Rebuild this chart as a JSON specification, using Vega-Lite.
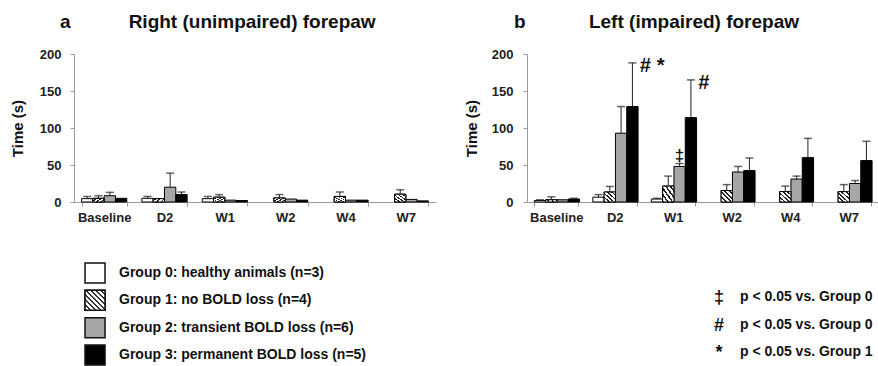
{
  "$schema": "https://vega.github.io/schema/vega-lite/v6.json",
  "padding": {"left": 10, "top": 13, "right": 0, "bottom": 0},
  "background": "white",
  "config": {
    "font": "Liberation Sans",
    "view": {"stroke": null},
    "axis": {"labelFont": "Liberation Sans", "labelFontWeight": "bold", "labelFontSize": 13, "labelColor": "#222", "titleFont": "Liberation Sans", "titleFontWeight": "bold", "titleFontSize": 15, "titleColor": "#111", "domainColor": "#999", "tickColor": "#999", "tickSize": 4, "grid": false, "labelOverlap": false},
    "title": {"font": "Liberation Sans", "fontSize": 19, "fontWeight": "bold", "color": "#111", "anchor": "start", "frame": "group"}
  },
  "datasets": {
    "bars": [
      {"side": "R", "phase": "Baseline", "group": 0, "mean": 4.5, "err": 7.5},
      {"side": "R", "phase": "Baseline", "group": 1, "mean": 5, "err": 8.5},
      {"side": "R", "phase": "Baseline", "group": 2, "mean": 8.5, "err": 13},
      {"side": "R", "phase": "Baseline", "group": 3, "mean": 5, "err": null},
      {"side": "R", "phase": "D2", "group": 0, "mean": 5, "err": 7.5},
      {"side": "R", "phase": "D2", "group": 1, "mean": 4.5, "err": null},
      {"side": "R", "phase": "D2", "group": 2, "mean": 20, "err": 39},
      {"side": "R", "phase": "D2", "group": 3, "mean": 10, "err": 13.5},
      {"side": "R", "phase": "W1", "group": 0, "mean": 4.5, "err": 7.5},
      {"side": "R", "phase": "W1", "group": 1, "mean": 6.5, "err": 10},
      {"side": "R", "phase": "W1", "group": 2, "mean": 2.5, "err": null},
      {"side": "R", "phase": "W1", "group": 3, "mean": 2, "err": null},
      {"side": "R", "phase": "W2", "group": 1, "mean": 5.5, "err": 10},
      {"side": "R", "phase": "W2", "group": 2, "mean": 4, "err": null},
      {"side": "R", "phase": "W2", "group": 3, "mean": 2.5, "err": null},
      {"side": "R", "phase": "W4", "group": 1, "mean": 7.5, "err": 13.5},
      {"side": "R", "phase": "W4", "group": 2, "mean": 2.5, "err": null},
      {"side": "R", "phase": "W4", "group": 3, "mean": 2.5, "err": null},
      {"side": "R", "phase": "W7", "group": 1, "mean": 10.5, "err": 16.5},
      {"side": "R", "phase": "W7", "group": 2, "mean": 3.5, "err": null},
      {"side": "R", "phase": "W7", "group": 3, "mean": 1.5, "err": null},
      {"side": "L", "phase": "Baseline", "group": 0, "mean": 2, "err": 3},
      {"side": "L", "phase": "Baseline", "group": 1, "mean": 3, "err": 7},
      {"side": "L", "phase": "Baseline", "group": 2, "mean": 3, "err": null},
      {"side": "L", "phase": "Baseline", "group": 3, "mean": 4, "err": 5},
      {"side": "L", "phase": "D2", "group": 0, "mean": 6.5, "err": 10},
      {"side": "L", "phase": "D2", "group": 1, "mean": 13.5, "err": 21},
      {"side": "L", "phase": "D2", "group": 2, "mean": 93, "err": 129},
      {"side": "L", "phase": "D2", "group": 3, "mean": 129, "err": 188, "sig": "# *"},
      {"side": "L", "phase": "W1", "group": 0, "mean": 4, "err": 5},
      {"side": "L", "phase": "W1", "group": 1, "mean": 21.5, "err": 35},
      {"side": "L", "phase": "W1", "group": 2, "mean": 48, "err": 52, "sig": "‡"},
      {"side": "L", "phase": "W1", "group": 3, "mean": 114, "err": 165, "sig": "#"},
      {"side": "L", "phase": "W2", "group": 1, "mean": 15.5, "err": 23.5},
      {"side": "L", "phase": "W2", "group": 2, "mean": 40.5, "err": 48},
      {"side": "L", "phase": "W2", "group": 3, "mean": 42.5, "err": 59.5},
      {"side": "L", "phase": "W4", "group": 1, "mean": 14, "err": 21.5},
      {"side": "L", "phase": "W4", "group": 2, "mean": 31, "err": 35},
      {"side": "L", "phase": "W4", "group": 3, "mean": 60, "err": 86},
      {"side": "L", "phase": "W7", "group": 1, "mean": 14, "err": 23.5},
      {"side": "L", "phase": "W7", "group": 2, "mean": 25, "err": 29},
      {"side": "L", "phase": "W7", "group": 3, "mean": 56, "err": 82}
    ],
    "legend": [
      {"col": "g", "row": 0, "group": 0, "label": "Group 0: healthy animals (n=3)"},
      {"col": "g", "row": 1, "group": 1, "label": "Group 1: no BOLD loss (n=4)"},
      {"col": "g", "row": 2, "group": 2, "label": "Group 2: transient BOLD loss (n=6)"},
      {"col": "g", "row": 3, "group": 3, "label": "Group 3: permanent BOLD loss (n=5)"},
      {"col": "s", "row": 1, "sym": "‡", "label": "p < 0.05 vs. Group 0"},
      {"col": "s", "row": 2, "sym": "#", "label": "p < 0.05 vs. Group 0"},
      {"col": "s", "row": 3, "sym": "*", "label": "p < 0.05 vs. Group 1"}
    ]
  },
  "vconcat": [
    {
      "hconcat": [
        {
          "width": 362, "height": 148,
          "title": {"text": "a\u00a0\u00a0\u00a0\u00a0\u00a0\u00a0\u00a0\u00a0\u00a0\u00a0\u00a0Right (unimpaired) forepaw", "dx": -14, "offset": 16},
          "data": {"name": "bars"},
          "transform": [{"filter": "datum.side === 'R'"}],
          "encoding": {
            "x": {"field": "phase", "type": "nominal", "sort": ["Baseline", "D2", "W1", "W2", "W4", "W7"], "scale": {"paddingInner": 0.25, "paddingOuter": 0.125}, "axis": {"title": null, "labelAngle": 0, "tickBand": "extent", "labelPadding": 5}},
            "xOffset": {"field": "group", "type": "nominal", "scale": {"domain": [0, 1, 2, 3], "paddingInner": 0, "paddingOuter": 0}}
          },
          "layer": [
            {
              "mark": {"type": "bar", "stroke": "#000", "strokeWidth": 1},
              "encoding": {
                "y": {"field": "mean", "type": "quantitative", "scale": {"domain": [0, 200]}, "axis": {"values": [0, 50, 100, 150, 200], "title": "Time (s)", "labelPadding": 9, "titlePadding": 14}},
                "fill": {"field": "group", "type": "nominal", "scale": {"domain": [0, 1, 2, 3], "range": ["#ffffff", "#ffffff", "#a6a6a6", "#000000"]}, "legend": null}
              }
            },
            {
              "transform": [{"filter": "datum.group === 1"}],
              "mark": {"type": "bar", "stroke": "#000", "strokeWidth": 1, "fill": {"gradient": "linear", "x1": 0, "y1": 1, "x2": 1, "y2": 0, "stops": [
                {"offset": 0, "color": "#222"}, {"offset": 0.08, "color": "#222"}, {"offset": 0.08, "color": "#fff"}, {"offset": 0.2, "color": "#fff"},
                {"offset": 0.2, "color": "#222"}, {"offset": 0.28, "color": "#222"}, {"offset": 0.28, "color": "#fff"}, {"offset": 0.4, "color": "#fff"},
                {"offset": 0.4, "color": "#222"}, {"offset": 0.48, "color": "#222"}, {"offset": 0.48, "color": "#fff"}, {"offset": 0.6, "color": "#fff"},
                {"offset": 0.6, "color": "#222"}, {"offset": 0.68, "color": "#222"}, {"offset": 0.68, "color": "#fff"}, {"offset": 0.8, "color": "#fff"},
                {"offset": 0.8, "color": "#222"}, {"offset": 0.88, "color": "#222"}, {"offset": 0.88, "color": "#fff"}, {"offset": 1, "color": "#fff"}]}},
              "encoding": {"y": {"field": "mean", "type": "quantitative", "axis": {"values": [0, 50, 100, 150, 200], "title": "Time (s)", "labelPadding": 9, "titlePadding": 14}}}
            },
            {
              "transform": [{"filter": "datum.err != null"}],
              "mark": {"type": "rule", "color": "#222", "strokeWidth": 1},
              "encoding": {"y": {"field": "mean", "type": "quantitative", "axis": {"values": [0, 50, 100, 150, 200], "title": "Time (s)", "labelPadding": 9, "titlePadding": 14}}, "y2": {"field": "err"}}
            },
            {
              "transform": [{"filter": "datum.err != null"}],
              "mark": {"type": "tick", "color": "#222", "size": 8, "thickness": 1.5},
              "encoding": {"y": {"field": "err", "type": "quantitative", "axis": {"values": [0, 50, 100, 150, 200], "title": "Time (s)", "labelPadding": 9, "titlePadding": 14}}}
            }
          ]
        },
        {
          "width": 351, "height": 148,
          "title": {"text": "b\u00a0\u00a0\u00a0\u00a0\u00a0\u00a0\u00a0\u00a0\u00a0\u00a0\u00a0\u00a0Left (impaired) forepaw", "dx": -13, "offset": 16},
          "data": {"name": "bars"},
          "transform": [{"filter": "datum.side === 'L'"}],
          "encoding": {
            "x": {"field": "phase", "type": "nominal", "sort": ["Baseline", "D2", "W1", "W2", "W4", "W7"], "scale": {"paddingInner": 0.25, "paddingOuter": 0.125}, "axis": {"title": null, "labelAngle": 0, "tickBand": "extent", "labelPadding": 5}},
            "xOffset": {"field": "group", "type": "nominal", "scale": {"domain": [0, 1, 2, 3], "paddingInner": 0, "paddingOuter": 0}}
          },
          "layer": [
            {
              "mark": {"type": "bar", "stroke": "#000", "strokeWidth": 1},
              "encoding": {
                "y": {"field": "mean", "type": "quantitative", "scale": {"domain": [0, 200]}, "axis": {"values": [0, 50, 100, 150, 200], "title": "Time (s)", "labelPadding": 10, "titlePadding": 12}},
                "fill": {"field": "group", "type": "nominal", "scale": {"domain": [0, 1, 2, 3], "range": ["#ffffff", "#ffffff", "#a6a6a6", "#000000"]}, "legend": null}
              }
            },
            {
              "transform": [{"filter": "datum.group === 1"}],
              "mark": {"type": "bar", "stroke": "#000", "strokeWidth": 1, "fill": {"gradient": "linear", "x1": 0, "y1": 1, "x2": 1, "y2": 0, "stops": [
                {"offset": 0, "color": "#222"}, {"offset": 0.08, "color": "#222"}, {"offset": 0.08, "color": "#fff"}, {"offset": 0.2, "color": "#fff"},
                {"offset": 0.2, "color": "#222"}, {"offset": 0.28, "color": "#222"}, {"offset": 0.28, "color": "#fff"}, {"offset": 0.4, "color": "#fff"},
                {"offset": 0.4, "color": "#222"}, {"offset": 0.48, "color": "#222"}, {"offset": 0.48, "color": "#fff"}, {"offset": 0.6, "color": "#fff"},
                {"offset": 0.6, "color": "#222"}, {"offset": 0.68, "color": "#222"}, {"offset": 0.68, "color": "#fff"}, {"offset": 0.8, "color": "#fff"},
                {"offset": 0.8, "color": "#222"}, {"offset": 0.88, "color": "#222"}, {"offset": 0.88, "color": "#fff"}, {"offset": 1, "color": "#fff"}]}},
              "encoding": {"y": {"field": "mean", "type": "quantitative", "axis": {"values": [0, 50, 100, 150, 200], "title": "Time (s)", "labelPadding": 10, "titlePadding": 12}}}
            },
            {
              "transform": [{"filter": "datum.err != null"}],
              "mark": {"type": "rule", "color": "#222", "strokeWidth": 1},
              "encoding": {"y": {"field": "mean", "type": "quantitative", "axis": {"values": [0, 50, 100, 150, 200], "title": "Time (s)", "labelPadding": 10, "titlePadding": 12}}, "y2": {"field": "err"}}
            },
            {
              "transform": [{"filter": "datum.err != null"}],
              "mark": {"type": "tick", "color": "#222", "size": 8, "thickness": 1.5},
              "encoding": {"y": {"field": "err", "type": "quantitative", "axis": {"values": [0, 50, 100, 150, 200], "title": "Time (s)", "labelPadding": 10, "titlePadding": 12}}}
            },
            {
              "transform": [{"filter": "datum.sig != null && datum.sig !== '‡'"}],
              "mark": {"type": "text", "align": "left", "baseline": "middle", "dx": 7, "dy": 3, "fontSize": 20, "fontWeight": "bold", "fontStyle": "italic", "font": "Liberation Sans", "color": "#111"},
              "encoding": {"y": {"field": "err", "type": "quantitative", "axis": {"values": [0, 50, 100, 150, 200], "title": "Time (s)", "labelPadding": 10, "titlePadding": 12}}, "text": {"field": "sig"}}
            },
            {
              "transform": [{"filter": "datum.sig === '‡'"}],
              "mark": {"type": "text", "align": "center", "baseline": "middle", "dy": -8, "fontSize": 17, "fontWeight": "bold", "font": "Liberation Sans", "color": "#111"},
              "encoding": {"y": {"field": "err", "type": "quantitative", "axis": {"values": [0, 50, 100, 150, 200], "title": "Time (s)", "labelPadding": 10, "titlePadding": 12}}, "text": {"field": "sig"}}
            }
          ]
        }
      ],
      "spacing": 28
    },
    {
      "width": 666, "height": 82,
      "data": {"name": "legend"},
      "encoding": {
        "x": {"field": "col", "type": "nominal", "scale": {"type": "point", "domain": ["g", "s"], "padding": 0.0337}, "axis": null},
        "y": {"field": "row", "type": "ordinal", "scale": {"type": "point", "domain": [0, 1, 2, 3], "padding": 0}, "axis": null}
      },
      "layer": [
        {
          "transform": [{"filter": "datum.col === 'g'"}],
          "mark": {"type": "point", "shape": "square", "size": 400, "filled": true, "stroke": "#111", "strokeWidth": 1.5, "opacity": 1},
          "encoding": {"fill": {"field": "group", "type": "nominal", "scale": {"domain": [0, 1, 2, 3], "range": ["#ffffff", "#ffffff", "#a6a6a6", "#000000"]}, "legend": null}}
        },
        {
          "transform": [{"filter": "datum.col === 'g' && datum.group === 1"}],
          "mark": {"type": "point", "shape": "square", "size": 400, "filled": true, "stroke": "#111", "strokeWidth": 1.5, "opacity": 1, "fill": {"gradient": "linear", "x1": 0, "y1": 1, "x2": 1, "y2": 0, "stops": [
            {"offset": 0, "color": "#333"}, {"offset": 0.05, "color": "#333"}, {"offset": 0.05, "color": "#fff"}, {"offset": 0.125, "color": "#fff"},
            {"offset": 0.125, "color": "#333"}, {"offset": 0.175, "color": "#333"}, {"offset": 0.175, "color": "#fff"}, {"offset": 0.25, "color": "#fff"},
            {"offset": 0.25, "color": "#333"}, {"offset": 0.3, "color": "#333"}, {"offset": 0.3, "color": "#fff"}, {"offset": 0.375, "color": "#fff"},
            {"offset": 0.375, "color": "#333"}, {"offset": 0.425, "color": "#333"}, {"offset": 0.425, "color": "#fff"}, {"offset": 0.5, "color": "#fff"},
            {"offset": 0.5, "color": "#333"}, {"offset": 0.55, "color": "#333"}, {"offset": 0.55, "color": "#fff"}, {"offset": 0.625, "color": "#fff"},
            {"offset": 0.625, "color": "#333"}, {"offset": 0.675, "color": "#333"}, {"offset": 0.675, "color": "#fff"}, {"offset": 0.75, "color": "#fff"},
            {"offset": 0.75, "color": "#333"}, {"offset": 0.8, "color": "#333"}, {"offset": 0.8, "color": "#fff"}, {"offset": 0.875, "color": "#fff"},
            {"offset": 0.875, "color": "#333"}, {"offset": 0.925, "color": "#333"}, {"offset": 0.925, "color": "#fff"}, {"offset": 1, "color": "#fff"}]}}
        },
        {
          "transform": [{"filter": "datum.col === 'g'"}],
          "mark": {"type": "text", "align": "left", "baseline": "middle", "dx": 24, "fontSize": 14, "fontWeight": "bold", "font": "Liberation Sans", "color": "#111"},
          "encoding": {"text": {"field": "label"}}
        },
        {
          "transform": [{"filter": "datum.col === 's'"}],
          "mark": {"type": "text", "align": "left", "baseline": "middle", "dx": 21, "dy": -3, "fontSize": 14, "fontWeight": "bold", "font": "Liberation Sans", "color": "#111"},
          "encoding": {"text": {"field": "label"}}
        },
        {
          "transform": [{"filter": "datum.col === 's'"}],
          "mark": {"type": "text", "align": "center", "baseline": "middle", "dy": -2, "fontSize": 18, "fontWeight": "bold", "font": "Liberation Sans", "color": "#111"},
          "encoding": {"text": {"field": "sym"}}
        }
      ]
    }
  ],
  "spacing": 36
}
